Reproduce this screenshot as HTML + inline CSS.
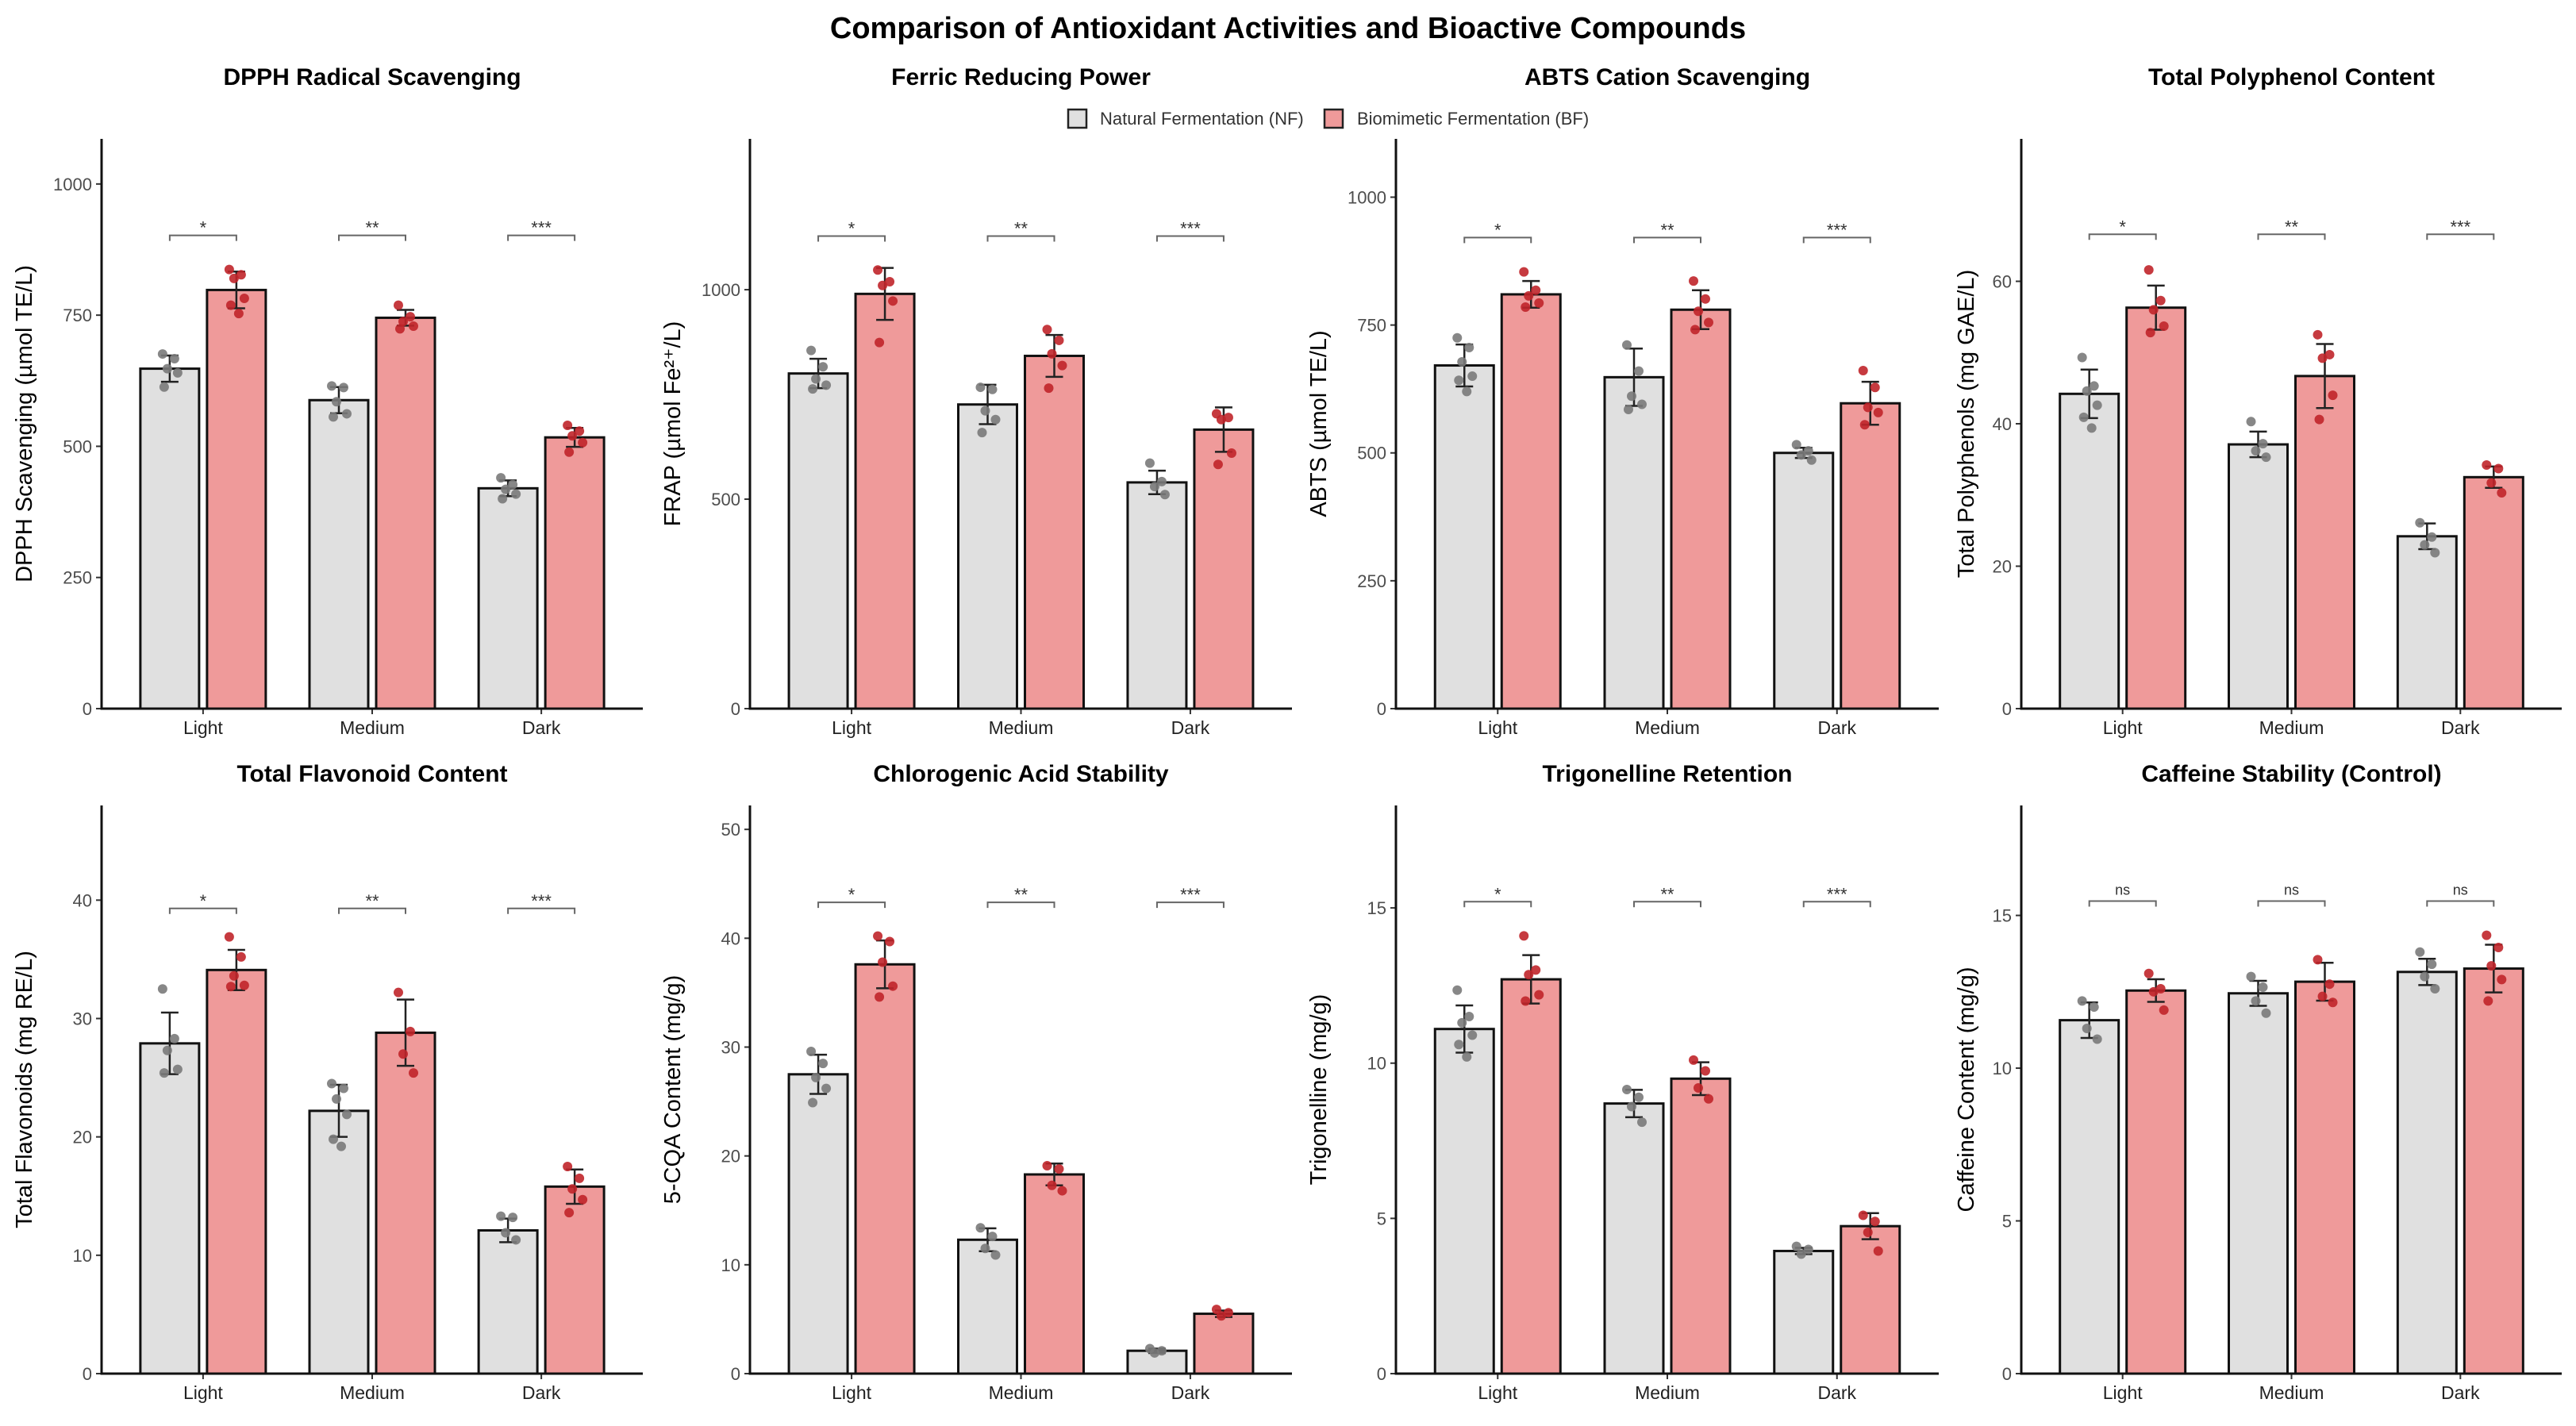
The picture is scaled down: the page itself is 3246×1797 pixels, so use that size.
<!DOCTYPE html>
<html><head><meta charset="utf-8"><style>
body{margin:0;background:#fff;}
svg text{font-family:"Liberation Sans",sans-serif;}
</style></head><body>
<svg id="chart" width="3246" height="1792" xmlns="http://www.w3.org/2000/svg">
<rect width="3246" height="1792" fill="#fff"/>
<text x="1623" y="48" font-size="38" font-weight="bold" text-anchor="middle" fill="#000">Comparison of Antioxidant Activities and Bioactive Compounds</text>
<g>
<rect x="1346" y="138" width="23" height="23" fill="#e0e0e0" stroke="#222" stroke-width="2.5"/>
<text x="1386" y="157" font-size="22" fill="#333">Natural Fermentation (NF)</text>
<rect x="1669" y="138" width="23" height="23" fill="#ef9a9a" stroke="#222" stroke-width="2.5"/>
<text x="1710" y="157" font-size="22" fill="#333">Biomimetic Fermentation (BF)</text>
</g>
</svg>
<script>
const categories=["Light","Medium","Dark"];
const panelTitles=["DPPH Radical Scavenging","Ferric Reducing Power","ABTS Cation Scavenging","Total Polyphenol Content","Total Flavonoid Content","Chlorogenic Acid Stability","Trigonelline Retention","Caffeine Stability (Control)"];
const yTitles=["DPPH Scavenging (µmol TE/L)","FRAP (µmol Fe²⁺/L)","ABTS (µmol TE/L)","Total Polyphenols (mg GAE/L)","Total Flavonoids (mg RE/L)","5-CQA Content (mg/g)","Trigonelline (mg/g)","Caffeine Content (mg/g)"];
const yMax=[1086,1360,1114,80,48,52.2,18.3,18.6];
const yTicks=[[0,250,500,750,1000],[0,500,1000],[0,250,500,750,1000],[0,20,40,60],[0,10,20,30,40],[0,10,20,30,40,50],[0,5,10,15],[0,5,10,15]];
const nfMean=[[648,588,420],[800,726,540],[671,648,500],[44.2,37.1,24.2],[27.9,22.2,12.1],[27.5,12.3,2.1],[11.1,8.7,3.95],[11.57,12.45,13.15]];
const bfMean=[[798,745,517],[990,842,666],[810,780,597],[56.3,46.7,32.5],[34.1,28.8,15.8],[37.6,18.3,5.5],[12.7,9.5,4.75],[12.54,12.83,13.26]];
const nfSd=[[25,25,15],[35,47,28],[41,56,10],[3.4,1.8,1.8],[2.6,2.2,1.0],[1.8,1.05,0.2],[0.76,0.44,0.1],[0.58,0.41,0.43]];
const bfSd=[[35,15,18],[62,50,53],[26,38,42],[3.1,4.5,1.5],[1.7,2.8,1.45],[2.2,1.0,0.3],[0.78,0.53,0.42],[0.37,0.62,0.78]];
const bracketY=[902,1128,921,66.6,39.3,43.3,15.2,15.47];
const sigLabels=[["*","**","***"],["*","**","***"],["*","**","***"],["*","**","***"],["*","**","***"],["*","**","***"],["*","**","***"],["ns","ns","ns"]];
const nfPoints=[
 [[676,667,648,640,613],[615,612,585,562,556],[440,427,418,409,400]],
 [[855,816,787,772,763],[767,762,711,690,659],[586,542,530,511]],
 [[725,706,678,650,642,620],[711,660,611,595,585],[516,504,496,486]],
 [[49.3,45.3,44.6,42.6,40.9,39.4],[40.3,37.2,36.2,35.3],[26.1,24.1,23.0,21.9]],
 [[32.5,28.3,27.3,25.7,25.4],[24.5,24.1,23.2,21.9,19.8,19.2],[13.3,13.2,11.9,11.3]],
 [[29.6,28.5,27.2,26.2,24.9],[13.4,12.6,11.5,10.9],[2.3,2.1,1.9]],
 [[12.35,11.5,11.3,10.9,10.6,10.2],[9.15,8.9,8.6,8.1],[4.1,4.0,3.85]],
 [[12.2,12.0,11.3,10.95],[13.0,12.65,12.2,11.8],[13.8,13.4,13.0,12.6]]];
const bfPoints=[
 [[837,827,820,782,769,753],[769,747,738,729,724],[540,529,520,507,489]],
 [[1047,1019,1010,973,874],[905,879,847,819,765],[704,695,690,610,583]],
 [[854,818,807,793,785],[836,801,777,755,741],[661,628,589,579,555]],
 [[61.6,57.3,56.0,53.7,52.8],[52.5,49.7,49.2,44.0,40.6],[34.2,33.7,31.7,30.3]],
 [[36.9,35.2,33.6,32.8,32.7],[32.2,28.9,27.0,25.4],[17.5,16.5,15.6,14.7,13.6]],
 [[40.2,39.7,37.8,35.6,34.6],[19.1,18.8,17.3,16.8],[5.9,5.6,5.3]],
 [[14.1,13.0,12.85,12.2,12.0],[10.1,9.75,9.2,8.85],[5.1,4.9,4.55,3.95]],
 [[13.1,12.6,12.5,11.9],[13.55,12.75,12.35,12.15],[14.35,13.95,13.35,12.9,12.2]]];

const NS="http://www.w3.org/2000/svg";
const svg=document.getElementById('chart');
const axisXs=[128,945,1759,2547], axisEnds=[810,1628,2443,3228];
const rowTop=[175,1015], rowBase=[893,1731], titleY=[107,985];
const jit=[-9,6,-3,10,-7,3];
function mk(tag,attrs,parent){const e=document.createElementNS(NS,tag);for(const k in attrs)e.setAttribute(k,attrs[k]);(parent||svg).appendChild(e);return e;}
for(let p=0;p<8;p++){
  const row=Math.floor(p/4), col=p%4;
  const x0=axisXs[col], x1=axisEnds[col], top=rowTop[row], base=rowBase[row];
  const W=x1-x0;
  const xc=i=>x0+(i+0.6)/3.2*W;
  const y=v=>base-(v/yMax[p])*(base-top);
  const g=mk('g',{});
  
  
  const t=mk('text',{x:(x0+x1)/2,y:titleY[row],'font-size':30,'font-weight':'bold','text-anchor':'middle',fill:'#000'},g);
  t.textContent=panelTitles[p];
  
  
  const yt=mk('text',{x:0,y:0,'font-size':29,'text-anchor':'middle',fill:'#000',transform:`translate(${col===3?x0-60:x0-88},${(top+base)/2}) rotate(-90)`},g);
  yt.textContent=yTitles[p];
  
  
  yTicks[p].forEach(v=>{
    mk('line',{x1:x0-7,x2:x0,y1:y(v),y2:y(v),stroke:'#333','stroke-width':2},g);
    const tl=mk('text',{x:x0-12,y:y(v)+8,'font-size':22,'text-anchor':'end',fill:'#4d4d4d'},g);
    tl.textContent=v;
    
    
  });
  const bw=74, off=42;
  for(let i=0;i<3;i++){
    const c=xc(i);
    [[nfMean,nfSd,nfPoints,-off,'#e0e0e0','#7a7a7a','nf'],[bfMean,bfSd,bfPoints,off,'#ef9a9a','#c0252a','bf']].forEach(s=>{
      const [M,SD,PT,o,fill,pc,nm]=s;
      const cx=c+o, m=M[p][i], sd=SD[p][i];
      const r=mk('rect',{x:cx-bw/2,y:y(m),width:bw,height:base-y(m),fill:fill,stroke:'#111','stroke-width':3},g);
      
      
      const eb=mk('g',{stroke:'#222','stroke-width':2.5},g);
      
      
      mk('line',{x1:cx,x2:cx,y1:y(m-sd),y2:y(m+sd)},eb);
      mk('line',{x1:cx-11,x2:cx+11,y1:y(m-sd),y2:y(m-sd)},eb);
      mk('line',{x1:cx-11,x2:cx+11,y1:y(m+sd),y2:y(m+sd)},eb);
      PT[p][i].forEach((v,k)=>{
        const pt=mk('circle',{cx:cx+jit[k%jit.length],cy:y(v),r:6,fill:pc,'fill-opacity':0.9},g);
        
        
      });
    });
    const by=y(bracketY[p]);
    const br=mk('path',{d:`M${c-off},${by+7}V${by}H${c+off}V${by+7}`,fill:'none',stroke:'#666','stroke-width':2},g);
    
    
    const sl=mk('text',{x:c,y:sigLabels[p][i]==='ns'?by-8:by-2,'font-size':sigLabels[p][i]==='ns'?18:22,'text-anchor':'middle',fill:'#333'},g);
    sl.textContent=sigLabels[p][i];
    
    
    mk('line',{x1:c,x2:c,y1:base,y2:base+7,stroke:'#333','stroke-width':2},g);
    const cl=mk('text',{x:c,y:base+32,'font-size':23,'text-anchor':'middle',fill:'#222'},g);
    cl.textContent=categories[i];
    
    
  }
  const ax=mk('path',{d:`M${x0},${top}V${base}H${x1}`,fill:'none',stroke:'#111','stroke-width':3},g);
  
  
}
</script>
</body></html>
